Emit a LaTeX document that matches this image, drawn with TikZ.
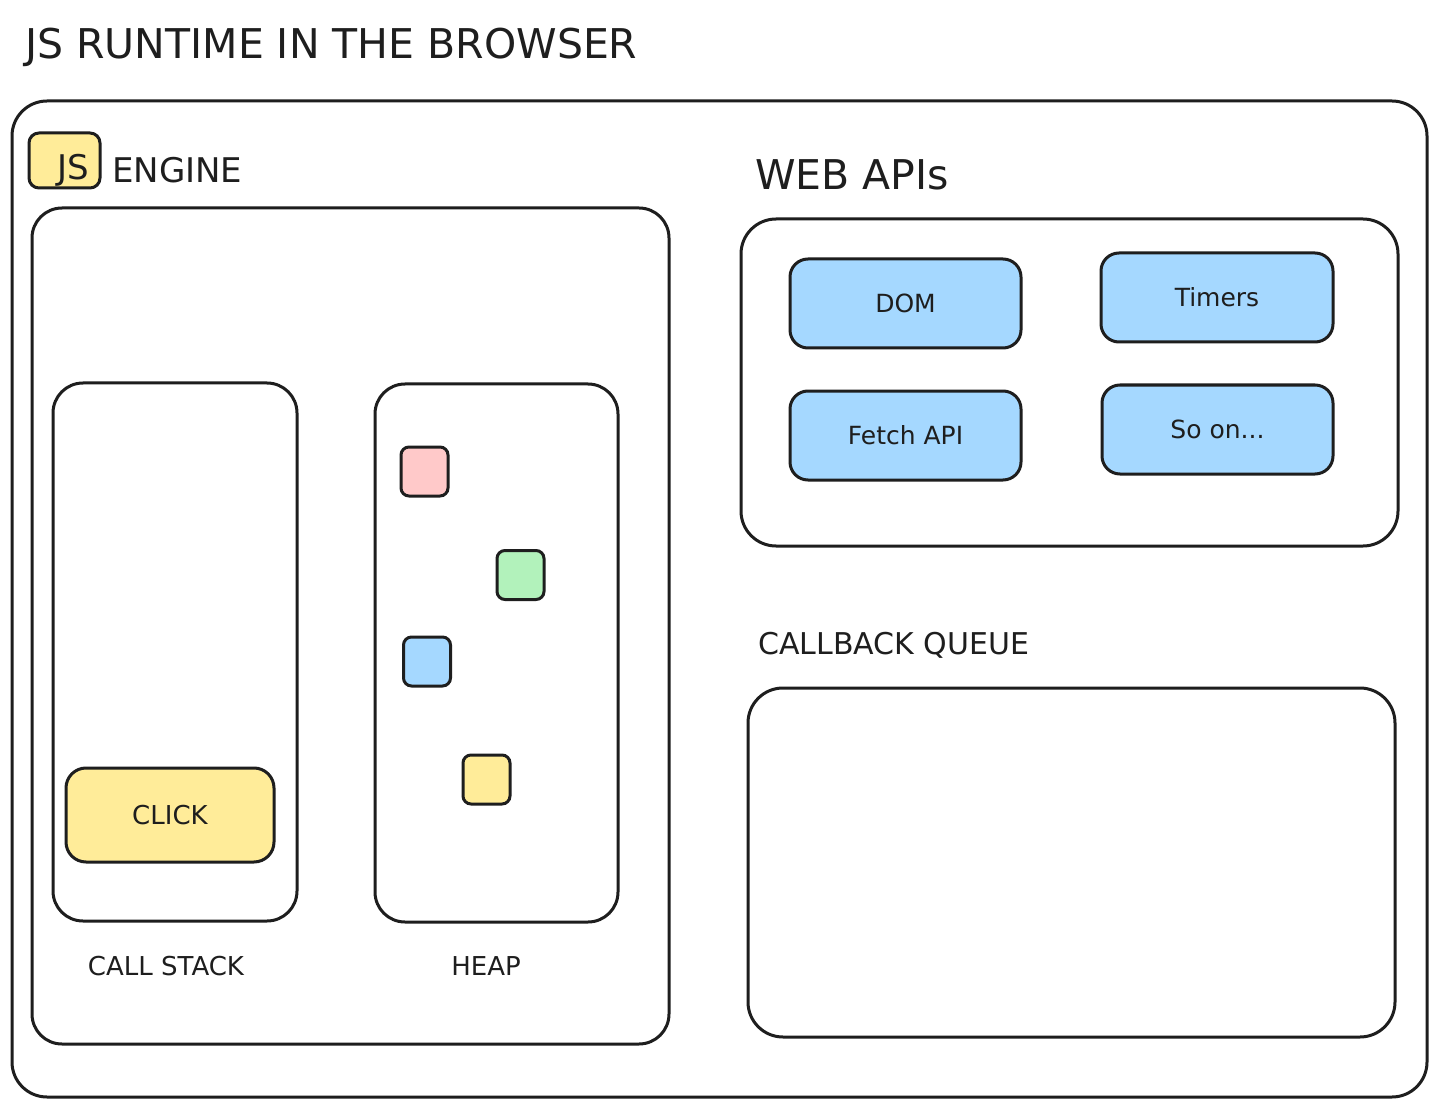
\documentclass[tikz,border=0pt]{standalone}
\usepackage{fontspec}
\setmainfont{DejaVu Sans}
\definecolor{ink}{HTML}{1E1E1E}
\definecolor{cyellow}{HTML}{FFEC99}
\definecolor{cblue}{HTML}{A5D8FF}
\definecolor{cpink}{HTML}{FFC9C9}
\definecolor{cgreen}{HTML}{B2F2BB}
\begin{document}
\begin{tikzpicture}[x=1pt,y=-1pt,
  box/.style={draw=ink,line width=3pt,rounded corners=30pt,inner sep=0pt,fill=white},
  apibox/.style={box,fill=cblue,rounded corners=18pt,minimum width=231pt,minimum height=89pt,
     text=ink,font=\fontsize{25}{30}\selectfont},
  blob/.style={box,rounded corners=8pt,minimum width=47pt,minimum height=49pt},
  lbl/.style={text=ink,inner sep=0pt}]
\useasboundingbox[fill=white] (0,0) rectangle (1441,1115);

\node[lbl,anchor=west,font=\fontsize{41}{48}\selectfont] (title) at (25,47) {JS RUNTIME IN THE BROWSER};

\node[box,rounded corners=35pt,minimum width=1415pt,minimum height=996pt] (outer) at (719.5,599) {};

% JS engine
\node[box,fill=cyellow,rounded corners=10pt,minimum width=71pt,minimum height=55pt] (badge) at (64.5,160.5) {};
\node[lbl,font=\fontsize{34}{40}\selectfont] (jstext) at (73,170) {JS};
\node[lbl,anchor=west,font=\fontsize{34}{40}\selectfont] (enginelbl) at (112,170) {ENGINE};
\node[box,minimum width=637pt,minimum height=836pt] (engine) at (350.5,626) {};

\node[box,minimum width=244pt,minimum height=538pt] (stack) at (175,652) {};
\node[box,fill=cyellow,rounded corners=20pt,minimum width=208pt,minimum height=94pt,
      text=ink,font=\fontsize{26}{30}\selectfont] (click) at (170,815) {CLICK};
\node[lbl,font=\fontsize{26}{30}\selectfont] (stacklbl) at (166,966) {CALL STACK};

\node[box,minimum width=243pt,minimum height=538pt] (heap) at (496.5,653) {};
\node[blob,fill=cpink] (b1) at (424.5,471.5) {};
\node[blob,fill=cgreen] (b2) at (520.5,575) {};
\node[blob,fill=cblue] (b3) at (427,661.5) {};
\node[blob,fill=cyellow] (b4) at (486.5,779.5) {};
\node[lbl,font=\fontsize{26}{30}\selectfont] (heaplbl) at (486,966) {HEAP};

% Web APIs
\node[lbl,anchor=west,font=\fontsize{41}{48}\selectfont] (weblbl) at (755,175) {WEB APIs};
\node[box,rounded corners=35pt,minimum width=657pt,minimum height=327pt] (web) at (1069.5,382.5) {};
\node[apibox] (dom) at (905.5,303.5) {DOM};
\node[apibox,minimum width=232pt] (timers) at (1217,297.5) {Timers};
\node[apibox] (fetch) at (905.5,435.5) {Fetch API};
\node[apibox] (soon) at (1217.5,429.5) {So on...};

% Callback queue
\node[lbl,anchor=west,font=\fontsize{30}{36}\selectfont] (queuelbl) at (758,645) {CALLBACK QUEUE};
\node[box,rounded corners=35pt,minimum width=647pt,minimum height=349pt] (queue) at (1071.5,862.5) {};
\end{tikzpicture}
\end{document}
